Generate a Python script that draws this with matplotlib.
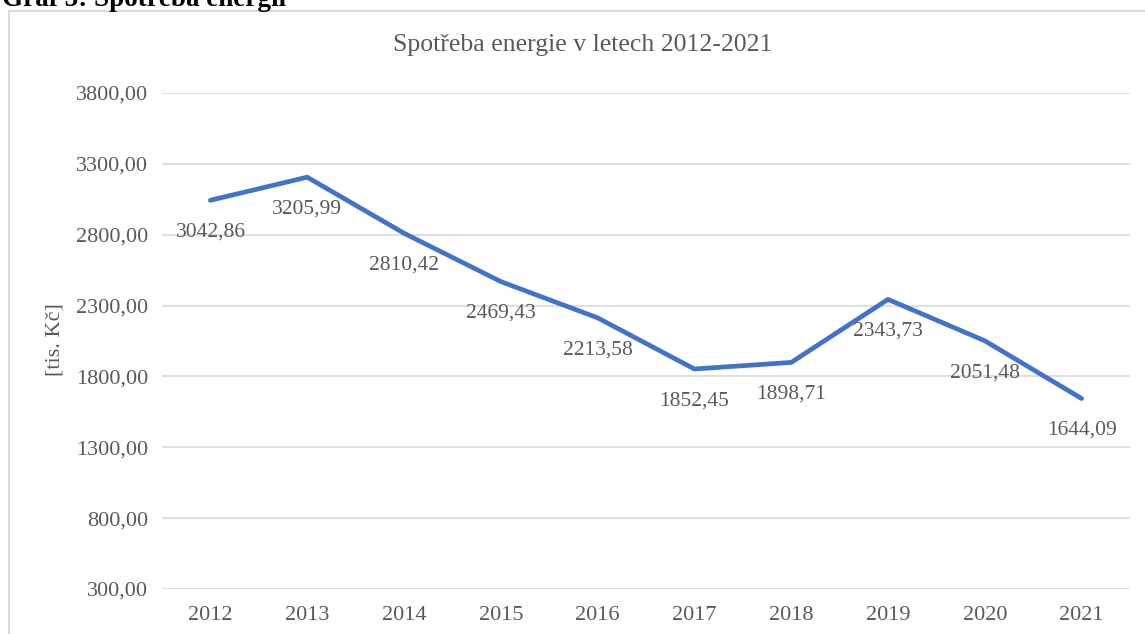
import matplotlib.pyplot as plt
from matplotlib.patches import Rectangle

plt.rcParams['font.family'] = ['Liberation Serif', 'DejaVu Serif']

roky = ['2012', '2013', '2014', '2015', '2016', '2017', '2018', '2019', '2020', '2021']
spotreba = [3042.86, 3205.99, 2810.42, 2469.43, 2213.58, 1852.45, 1898.71, 2343.73, 2051.48, 1644.09]
yticks = [300, 800, 1300, 1800, 2300, 2800, 3300, 3800]

sedá = '#595959'
modra = '#4472C4'

fig = plt.figure(figsize=(11.45, 6.34), dpi=100)
ax = fig.add_axes([162/1145, 1 - 589/634, 968/1145, (589 - 93)/634])

x = range(len(roky))
ax.plot(x, spotreba, color=modra, lw=3.4, solid_capstyle='round', solid_joinstyle='round')

# popisky hodnot pod body
for i, v in enumerate(spotreba):
    ax.annotate(f'{v:.2f}'.replace('.', ','), (i, v), xytext=(0, -23),
                textcoords='offset points', ha='center', va='center',
                fontsize=15.5, color=sedá)

ax.set_xlim(-0.5, len(roky) - 0.5)
ax.set_ylim(300, 3800)
ax.set_xticks(list(x))
ax.set_xticklabels(roky)
ax.set_yticks(yticks)
ax.set_yticklabels([f'{t},00' for t in yticks])
ax.tick_params(length=0, labelsize=16, colors=sedá)
ax.tick_params(axis='y', pad=10)
ax.tick_params(axis='x', pad=12)
ax.grid(axis='y', color='#d9d9d9', lw=1.2)
ax.set_axisbelow(True)
for s in ax.spines.values():
    s.set_visible(False)

fig.text(55/1145, 1 - 340/634, '[tis. Kč]', fontsize=16, color=sedá,
         rotation=90, ha='center', va='center')
fig.text(583/1145, 1 - 45/634, 'Spotřeba energie v letech 2012-2021', fontsize=18.5,
         color=sedá, ha='center', va='center')

# ramecek grafu
fig.patches.append(Rectangle((9/1145, -0.1), 1.2, 1 - 11/634 + 0.1, transform=fig.transFigure,
                             fill=False, edgecolor='#d9d9d9', lw=1.5))
fig.text(2/1145, 1 + 1/634, 'Graf 5: Spotřeba energií', fontsize=19.5, fontweight='bold',
         ha='left', va='center', color='black')

plt.savefig('out.png', dpi=100)
